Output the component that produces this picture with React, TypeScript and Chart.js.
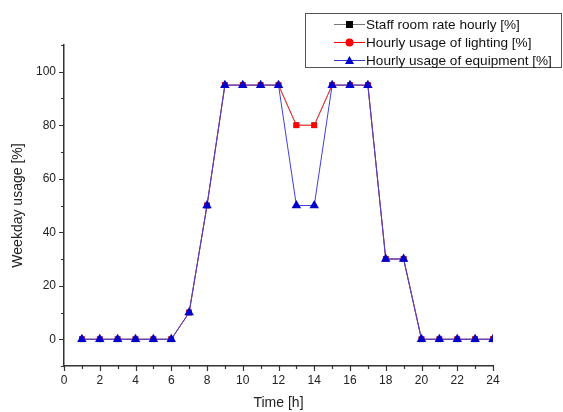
import React, { useEffect, useRef } from "react";
import { Chart, registerables } from "chart.js";

Chart.register(...registerables);

const hours = [1, 2, 3, 4, 5, 6, 7, 8, 9, 10, 11, 12, 13, 14, 15, 16, 17, 18, 19, 20, 21, 22, 23, 24];
const staffRoom = [0, 0, 0, 0, 0, 0, 10, 50, 95, 95, 95, 95, 80, 80, 95, 95, 95, 30, 30, 0, 0, 0, 0, 0];
const lighting = [0, 0, 0, 0, 0, 0, 10, 50, 95, 95, 95, 95, 80, 80, 95, 95, 95, 30, 30, 0, 0, 0, 0, 0];
const equipment = [0, 0, 0, 0, 0, 0, 10, 50, 95, 95, 95, 95, 50, 50, 95, 95, 95, 30, 30, 0, 0, 0, 0, 0];

const seriesNames = ["Staff room rate hourly [%]", "Hourly usage of lighting [%]", "Hourly usage of equipment [%]"];
const xTicks = [0, 2, 4, 6, 8, 10, 12, 14, 16, 18, 20, 22, 24];
const yTicks = [0, 20, 40, 60, 80, 100];

const FONT = "'Liberation Sans', Arial, sans-serif";
const AXIS = "#333333";

function drawMarker(ctx: CanvasRenderingContext2D, kind: string, x: number, y: number, color: string) {
  ctx.fillStyle = color;
  ctx.beginPath();
  if (kind === "rect") {
    ctx.rect(x - 3.5, y - 3.5, 7, 7);
  } else if (kind === "circle") {
    ctx.arc(x, y, 4, 0, Math.PI * 2);
  } else {
    ctx.moveTo(x, y - 4.5);
    ctx.lineTo(x + 4.5, y + 3.5);
    ctx.lineTo(x - 4.5, y + 3.5);
    ctx.closePath();
  }
  ctx.fill();
}

// Outward major/minor tick marks on the left and bottom axes
const axisTicks = {
  id: "axisTicks",
  afterDraw(chart: any) {
    const { ctx, scales, chartArea } = chart;
    const xs = scales.x;
    const ys = scales.y;
    ctx.save();
    ctx.strokeStyle = AXIS;
    ctx.lineWidth = 1.2;
    ctx.beginPath();
    for (let v = 0; v <= 24; v += 1) {
      const px = Math.round(xs.getPixelForValue(v)) + 0.5;
      const len = v % 2 === 0 ? 5 : 3;
      ctx.moveTo(px, chartArea.bottom);
      ctx.lineTo(px, chartArea.bottom + len);
    }
    for (let v = -10; v <= 110; v += 10) {
      const py = Math.round(ys.getPixelForValue(v)) + 0.5;
      const major = yTicks.includes(v);
      const len = major ? 5 : 3;
      ctx.moveTo(chartArea.left, py);
      ctx.lineTo(chartArea.left - len, py);
    }
    ctx.stroke();
    ctx.restore();
  },
};

// Boxed legend with line-and-marker samples
const boxLegend = {
  id: "boxLegend",
  afterDraw(chart: any) {
    const ctx = chart.ctx;
    const styles = [
      { color: "#000000", line: "#777777", kind: "rect" },
      { color: "#ff0000", line: "#ff0000", kind: "circle" },
      { color: "#0000cc", line: "#3333cc", kind: "triangle" },
    ];
    ctx.save();
    ctx.fillStyle = "#ffffff";
    ctx.fillRect(305.5, 13.5, 256, 54);
    ctx.strokeStyle = "#555555";
    ctx.lineWidth = 1;
    ctx.strokeRect(305.5, 13.5, 256, 54);
    ctx.font = `13.6px ${FONT}`;
    ctx.textBaseline = "middle";
    seriesNames.forEach((name, i) => {
      const y = 24.5 + i * 18;
      const s = styles[i];
      ctx.strokeStyle = s.line;
      ctx.lineWidth = 1;
      ctx.beginPath();
      ctx.moveTo(334, y);
      ctx.lineTo(365, y);
      ctx.stroke();
      drawMarker(ctx, s.kind, 349.5, y, s.color);
      ctx.fillStyle = "#111111";
      ctx.fillText(name, 366, y + 1);
    });
    ctx.restore();
  },
};

export default function App() {
  const ref = useRef<HTMLCanvasElement>(null);

  useEffect(() => {
    document.body.style.margin = "0";
    const toXY = (arr: number[]) => arr.map((v, i) => ({ x: hours[i], y: v }));
    const chart = new Chart(ref.current!, {
      type: "line",
      data: {
        datasets: [
          {
            label: seriesNames[0],
            data: toXY(staffRoom),
            borderColor: "#777777",
            backgroundColor: "#000000",
            borderWidth: 1,
            pointStyle: "rect",
            pointRadius: 4,
            pointBorderWidth: 0,
            order: 2,
          },
          {
            label: seriesNames[1],
            data: toXY(lighting),
            borderColor: "#ff3333",
            backgroundColor: "#ff0000",
            borderWidth: 1,
            pointStyle: "rect",
            pointRadius: 4,
            pointBorderWidth: 0,
            order: 1,
          },
          {
            label: seriesNames[2],
            data: toXY(equipment),
            borderColor: "#4040dd",
            backgroundColor: "#0000cc",
            borderWidth: 1,
            pointStyle: "triangle",
            pointRadius: 5.5,
            pointBorderWidth: 0,
            order: 0,
          },
        ],
      },
      options: {
        animation: false,
        responsive: false,
        maintainAspectRatio: false,
        layout: { padding: { top: 45, right: 70, bottom: 0, left: 0 } },
        plugins: { legend: { display: false }, tooltip: { enabled: false } },
        scales: {
          x: {
            type: "linear",
            min: 0,
            max: 24,
            afterBuildTicks: (s: any) => {
              s.ticks = xTicks.map((v) => ({ value: v }));
            },
            afterFit: (s: any) => {
              s.height = 412 - 366;
            },
            grid: { display: false, drawTicks: false },
            border: { display: true, color: AXIS, width: 1.5 },
            ticks: { color: "#222222", font: { family: FONT, size: 12 }, padding: 7, maxRotation: 0 },
            title: {
              display: true,
              text: "Time [h]",
              color: "#222222",
              font: { family: FONT, size: 14 },
              padding: { top: 2, bottom: 0 },
            },
          },
          y: {
            type: "linear",
            min: -10,
            max: 110,
            afterBuildTicks: (s: any) => {
              s.ticks = yTicks.map((v) => ({ value: v }));
            },
            afterFit: (s: any) => {
              s.width = 64;
            },
            grid: { display: false, drawTicks: false },
            border: { display: true, color: AXIS, width: 1.5 },
            ticks: { color: "#222222", font: { family: FONT, size: 12 }, padding: 8 },
            title: {
              display: true,
              text: "Weekday usage [%]",
              color: "#222222",
              font: { family: FONT, size: 14 },
              padding: { top: 10, bottom: 4 },
            },
          },
        },
      },
      plugins: [axisTicks, boxLegend],
    });
    return () => chart.destroy();
  }, []);

  return (
    <div style={{ position: "fixed", left: 0, top: 0, width: 563, height: 412, background: "#fff" }}>
      <canvas ref={ref} width={563} height={412} />
    </div>
  );
}
